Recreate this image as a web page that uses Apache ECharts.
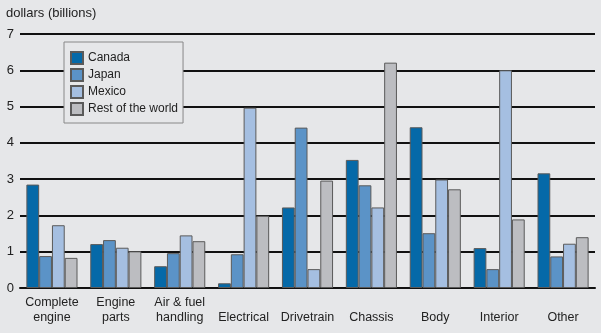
<!DOCTYPE html>
<html><head><meta charset="utf-8">
<script src="https://cdn.jsdelivr.net/npm/echarts@6/dist/echarts.min.js"></script>
<style>html,body{margin:0;padding:0;background:#e6e7e9}#c{width:601px;height:333px}</style>
</head><body><div id="c"></div>
<script>
const categories = ["Complete\nengine","Engine\nparts","Air & fuel\nhandling","Electrical","Drivetrain","Chassis","Body","Interior","Other"];
const canada = [2.85,1.21,0.6,0.13,2.22,3.53,4.43,1.1,3.16];
const japan  = [0.88,1.32,0.96,0.93,4.42,2.83,1.51,0.52,0.87];
const mexico = [1.73,1.11,1.45,4.97,0.52,2.22,2.99,6.0,1.22];
const rest   = [0.83,1.01,1.29,1.99,2.96,6.21,2.72,1.89,1.4];
const seriesNames = ["Canada","Japan","Mexico","Rest of the world"];
const colors = ["#0569a8","#5b93c7","#a5bfe1","#bcbdc1"];
const yTicks = [0,1,2,3,4,5,6,7];

const bg = "#e6e7e9";
const font = "Liberation Sans, Arial, sans-serif";
const chart = echarts.init(document.getElementById('c'), null, {renderer:'canvas'});
const data = [canada, japan, mexico, rest];
chart.setOption({
  backgroundColor: bg,
  animation: false,
  title: { text: "dollars (billions)", left: 6, top: 7, padding: 0,
    textStyle: { fontFamily: font, fontSize: 13, fontWeight: 'normal', color: '#222' } },
  legend: {
    orient: 'vertical', left: 64, top: 42,
    padding: [9, 5, 7, 6], itemGap: 3, itemWidth: 12, itemHeight: 12,
    icon: 'rect',
    backgroundColor: bg, borderColor: '#888', borderWidth: 1,
    textStyle: { fontFamily: font, fontSize: 12, color: '#222', lineHeight: 13 },
    data: seriesNames
  },
  grid: { left: 20, right: 6, top: 34, bottom: 45, containLabel: false },
  xAxis: {
    type: 'category', data: categories,
    axisLine: { lineStyle: { color: '#111', width: 2 } },
    axisTick: { inside: true, length: 4, lineStyle: { color: '#111', width: 2 } },
    axisLabel: { fontFamily: font, fontSize: 12.5, color: '#222', lineHeight: 15,
      verticalAlign: 'bottom', margin: 37, interval: 0 }
  },
  yAxis: {
    type: 'value', min: 0, max: 7, interval: 1,
    axisLine: { show: false }, axisTick: { show: false },
    axisLabel: { fontFamily: font, fontSize: 13, color: '#222', margin: 6,
      formatter: v => yTicks.includes(v) ? String(v) : '' },
    splitLine: { lineStyle: { color: '#111', width: 2 } }
  },
  series: seriesNames.map((n, i) => ({
    name: n, type: 'bar', data: data[i],
    barGap: '0%', barCategoryGap: '20%',
    itemStyle: { color: colors[i], borderColor: '#5a5a5a', borderWidth: 1 }
  }))
});
</script></body></html>
